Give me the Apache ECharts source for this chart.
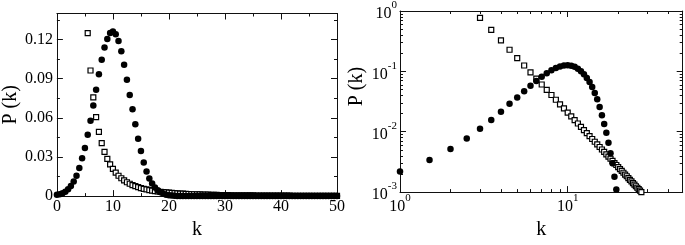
<!DOCTYPE html>
<html><head><meta charset="utf-8">
<script src="https://cdn.jsdelivr.net/npm/echarts@6/dist/echarts.min.js"></script>
<style>html,body{margin:0;padding:0;background:#fff}#c{width:685px;height:245px}</style>
</head><body><div id="c"></div>
<script>
// k values shared by both series (step 0.5)
const kValues = [
  0,0.5,1,1.5,2,2.5,3,3.5,4,4.5,
  5,5.5,6,6.5,7,7.5,8,8.5,9,9.5,
  10,10.5,11,11.5,12,12.5,13,13.5,14,14.5,
  15,15.5,16,16.5,17,17.5,18,18.5,19,19.5,
  20,20.5,21,21.5,22,22.5,23,23.5,24,24.5,
  25,25.5,26,26.5,27,27.5,28,28.5,29,29.5,
  30,30.5,31,31.5,32,32.5,33,33.5,34,34.5,
  35,35.5,36,36.5,37,37.5,38,38.5,39,39.5,
  40,40.5,41,41.5,42,42.5,43,43.5,44,44.5,
  45,45.5,46,46.5,47,47.5,48,48.5,49,49.5,
  50
];
// filled circles
const circleP = [
  0.0010,0.0015,0.0022,0.0034,0.0052,0.0077,0.0112,0.0156,0.0215,0.0290,
  0.0368,0.0470,0.0577,0.0695,0.0815,0.0935,0.1045,0.1140,0.1205,0.1250,
  0.1262,0.1240,0.1190,0.1110,0.1008,0.0892,0.0775,0.0665,0.0550,0.0440,
  0.0345,0.0258,0.0188,0.0134,0.0096,0.0066,0.0044,0.0030,0.0018,0.0011,
  0.0007,0.0004,0.0002,0.0001,0,0,0,0,0,0,
  0,0,0,0,0,0,0,0,0,0,
  0,0,0,0,0,0,0,0,0,0,
  0,0,0,0,0,0,0,0,0,0,
  0,0,0,0,0,0,0,0,0,0,
  0,0,0,0,0,0,0,0,0,0,
  0
];
// open squares
const squareP = [
  null,null,null,null,null,null,0.770,0.485,0.325,0.228,
  0.166,0.125,0.0963,0.0757,0.0606,0.0493,0.0406,0.0339,0.0285,0.0243,
  0.0208,0.0180,0.0156,0.0137,0.0120,0.0106,0.00947,0.00845,0.00758,0.00682,
  0.00616,0.00559,0.00508,0.00463,0.00423,0.00388,0.00357,0.00329,0.00303,0.00281,
  0.00260,0.00241,0.00225,0.00209,0.00195,0.00183,0.00171,0.00160,0.00150,0.00141,
  0.00133,0.00125,0.00118,0.00112,0.00106,0.00100,0.00095,0.00090,0.00085,0.00081,
  0.00077,0.00073,0.00070,0.00067,0.00063,0.00061,0.00058,0.00055,0.00053,0.00051,
  0.00049,0.00046,0.00045,0.00043,0.00041,0.00039,0.00038,0.00036,0.00035,0.00034,
  0.00033,0.00031,0.00030,0.00029,0.00028,0.00027,0.00026,0.00025,0.00024,0.00024,
  0.00023,0.00022,0.00021,0.00021,0.00020,0.00019,0.00019,0.00018,0.00018,0.00017,
  0.00017
];
// tick positions and labels
const linXTicks = [0,10,20,30,40,50];
const linXLabels = ['0','10','20','30','40','50'];
const linXMinor = [5,15,25,35,45];
const linYTicks = [0,0.03,0.06,0.09,0.12];
const linYLabels = ['0','0.03','0.06','0.09','0.12'];
const linYMinor = [0.015,0.045,0.075,0.105,0.135];
const logXTicks = [1,10];
const logXExp = ['0','1'];
const logXMinor = [2,3,4,5,6,7,8,9,20,30,40];
const logYTicks = [0.001,0.01,0.1,1];
const logYExp = ['-3','-2','-1','0'];
const logYMinor = [0.002,0.003,0.004,0.005,0.006,0.007,0.008,0.009,
                   0.02,0.03,0.04,0.05,0.06,0.07,0.08,0.09,
                   0.2,0.3,0.4,0.5,0.6,0.7,0.8,0.9];
const axisTitleX = 'k';
const axisTitleY = 'P (k)';

const FONT = 'Liberation Serif';
const LINE = {color:'#111', width:1};
const MAJ = 6, MIN = 3;

function idxOf(arr, v){
  let best = 0, bd = Infinity;
  arr.forEach((t,i)=>{ const d = Math.abs(t - v); if (d < bd){bd = d; best = i;} });
  return best;
}
const linXFmt = v => linXLabels[idxOf(linXTicks, v)];
const linYFmt = v => linYLabels[idxOf(linYTicks, v)];
const logRich = {
  b:{fontFamily:FONT, fontSize:16, color:'#000', lineHeight:22, verticalAlign:'bottom'},
  s:{fontFamily:FONT, fontSize:11, color:'#000', lineHeight:22, verticalAlign:'top'}
};
const logXFmt = v => '{b|10}{s|' + logXExp[idxOf(logXTicks.map(Math.log10), Math.log10(v))] + '}';
const logYFmt = v => '{b|10}{s|' + logYExp[idxOf(logYTicks.map(Math.log10), Math.log10(v))] + '}';

function ax(o){
  const a = {
    gridIndex:o.grid, type:o.type, position:o.pos, min:o.min, max:o.max,
    axisLine:{show:!!o.line, onZero:false, lineStyle:LINE},
    axisTick:{show:true, inside:true, length:o.len, customValues:o.ticks, lineStyle:LINE},
    axisLabel:{show:!!o.fmt},
    splitLine:{show:false}, minorTick:{show:false}, minorSplitLine:{show:false}
  };
  if (o.type === 'log') a.logBase = 10;
  if (o.fmt){
    a.axisLabel = {show:true, customValues:o.ticks, formatter:o.fmt, margin:o.margin,
      fontFamily:FONT, fontSize:16, color:'#000', rich:o.rich};
  }
  if (o.name){
    a.name = o.name; a.nameLocation = 'middle'; a.nameGap = o.nameGap;
    a.nameTextStyle = {fontFamily:FONT, fontSize:20, color:'#000', padding:o.namePad || 0};
  }
  return a;
}

const xAxes = [
  ax({grid:0,type:'value',pos:'bottom',min:0,max:50,line:1,len:MAJ,ticks:linXTicks,fmt:linXFmt,margin:3,name:axisTitleX,nameGap:17}),
  ax({grid:0,type:'value',pos:'bottom',min:0,max:50,len:MIN,ticks:linXMinor}),
  ax({grid:0,type:'value',pos:'top',min:0,max:50,line:1,len:MAJ,ticks:linXTicks}),
  ax({grid:0,type:'value',pos:'top',min:0,max:50,len:MIN,ticks:linXMinor}),
  ax({grid:1,type:'log',pos:'bottom',min:1,max:48.5,line:1,len:MAJ,ticks:logXTicks,fmt:logXFmt,rich:logRich,margin:1,name:axisTitleX,nameGap:23}),
  ax({grid:1,type:'log',pos:'bottom',min:1,max:48.5,len:MIN,ticks:logXMinor}),
  ax({grid:1,type:'log',pos:'top',min:1,max:48.5,line:1,len:MAJ,ticks:logXTicks}),
  ax({grid:1,type:'log',pos:'top',min:1,max:48.5,len:MIN,ticks:logXMinor})
];
const yAxes = [
  ax({grid:0,type:'value',pos:'left',min:0,max:0.14,line:1,len:MAJ,ticks:linYTicks,fmt:linYFmt,margin:4,name:axisTitleY,nameGap:33}),
  ax({grid:0,type:'value',pos:'left',min:0,max:0.14,len:MIN,ticks:linYMinor}),
  ax({grid:0,type:'value',pos:'right',min:0,max:0.14,line:1,len:MAJ,ticks:linYTicks}),
  ax({grid:0,type:'value',pos:'right',min:0,max:0.14,len:MIN,ticks:linYMinor}),
  ax({grid:1,type:'log',pos:'left',min:0.001,max:1,line:1,len:MAJ,ticks:logYTicks,fmt:logYFmt,rich:logRich,margin:3,name:axisTitleY,nameGap:33,namePad:[0,0,0,30]}),
  ax({grid:1,type:'log',pos:'left',min:0.001,max:1,len:MIN,ticks:logYMinor}),
  ax({grid:1,type:'log',pos:'right',min:0.001,max:1,line:1,len:MAJ,ticks:logYTicks}),
  ax({grid:1,type:'log',pos:'right',min:0.001,max:1,len:MIN,ticks:logYMinor})
];

const circlePts = kValues.map((k,i)=>[k, circleP[i]]);
const squarePts = kValues.map((k,i)=>[k, squareP[i]]).filter(p => p[1] != null);
const circleLog = circlePts.filter(p => p[1] > 0);
const squareLog = squarePts.filter(p => p[1] > 0);

const sqStyle = {color:'#fff', borderColor:'#000', borderWidth:1.2, opacity:1};
const ciStyle = {color:'#000', opacity:1};
function sc(data, xi, yi, sq){
  return {type:'scatter', data, xAxisIndex:xi, yAxisIndex:yi, clip:true, silent:true,
    symbol: sq ? 'rect' : 'circle', symbolSize: sq ? 5 : 6.5,
    itemStyle: sq ? sqStyle : ciStyle, z: sq ? 2 : 3};
}

const chart = echarts.init(document.getElementById('c'), null, {renderer:'canvas'});
chart.setOption({
  animation:false,
  backgroundColor:'#fff',
  grid:[
    {left:51, top:13.5, width:286, height:200, containLabel:false},
    {left:400, top:10, width:282.7, height:197.3, containLabel:false}
  ],
  xAxis:xAxes,
  yAxis:yAxes,
  series:[
    sc(squarePts,0,0,true),
    sc(circlePts,0,0,false),
    sc(squareLog,4,4,true),
    sc(circleLog,4,4,false)
  ]
});
</script></body></html>
